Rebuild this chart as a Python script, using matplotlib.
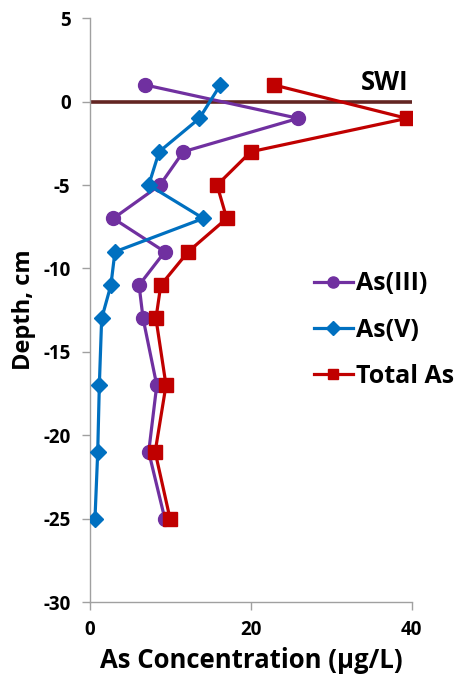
import matplotlib
matplotlib.use("Agg")
import matplotlib.pyplot as plt

plt.rcParams['font.family'] = ['Open Sans', 'DejaVu Sans']
plt.rcParams['font.weight'] = 'bold'
plt.rcParams['axes.unicode_minus'] = False

# Sampling depths (cm) and arsenic species concentrations (ug/L)
depth = [1, -1, -3, -5, -7, -9, -11, -13, -17, -21, -25]
as_iii = [6.9, 25.9, 11.6, 8.7, 2.9, 9.3, 6.1, 6.6, 8.3, 7.3, 9.3]
as_v = [16.2, 13.6, 8.6, 7.3, 14.1, 3.1, 2.6, 1.45, 1.16, 0.96, 0.62]
total_as = [22.9, 39.4, 20.0, 15.8, 17.0, 12.2, 8.8, 8.2, 9.45, 8.1, 9.95]

x_ticks = [0, 20, 40]
y_ticks = [5, 0, -5, -10, -15, -20, -25, -30]

fig = plt.figure(figsize=(4.63, 6.90), dpi=100)
ax = fig.add_axes([90 / 463, 1 - 602 / 690, (411.7 - 90) / 463, (602 - 18.3) / 690])

# sediment-water interface
ax.plot([0, 40], [0, 0], color='#632523', lw=2.6, zorder=2)
ax.text(39.6, 0.35, 'SWI', fontsize=18.5, fontweight='bold', ha='right', va='bottom')

ax.plot(as_iii, depth, color='#7030A0', lw=2.3, marker='o', ms=10, label='As(III)', zorder=3)
ax.plot(as_v, depth, color='#0070C0', lw=2.3, marker='D', ms=8.5, label='As(V)', zorder=4)
ax.plot(total_as, depth, color='#C00000', lw=2.3, marker='s', ms=9.5, label='Total As', zorder=5)

ax.set_xlim(0, 40)
ax.set_ylim(-30, 5)
ax.set_xticks(x_ticks)
ax.set_yticks(y_ticks)
ax.tick_params(axis='both', labelsize=13.5, color='#a0a0a0', length=6, width=1)
for lab in ax.get_xticklabels() + ax.get_yticklabels():
    lab.set_fontweight('bold')
ax.tick_params(axis='x', pad=7)
ax.tick_params(axis='y', pad=8)

for side in ('top', 'right'):
    ax.spines[side].set_visible(False)
for side in ('left', 'bottom'):
    ax.spines[side].set_color('#a0a0a0')
    ax.spines[side].set_linewidth(1)

ax.set_xlabel('As Concentration (\u03bcg/L)', fontsize=18.5, fontweight='bold', labelpad=5)
ax.set_ylabel('Depth, cm', fontsize=17, fontweight='bold', labelpad=5)

leg = ax.legend(loc='upper left', bbox_to_anchor=(0.626, 0.605), frameon=False,
                fontsize=18, handlelength=1.55, handletextpad=0.15, labelspacing=0.85,
                markerscale=0.8)
for t in leg.get_texts():
    t.set_fontweight('bold')

fig.savefig('out.png', dpi=100)
